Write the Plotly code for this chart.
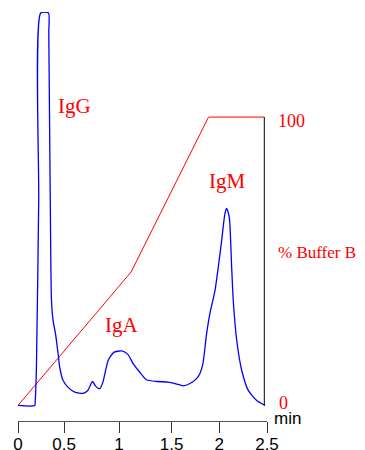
import plotly.graph_objects as go

# Chromatogram (absorbance, arbitrary units scaled to % axis)
time_min = [0, 0.168, 0.173, 0.185, 0.208, 0.228, 0.306, 0.309, 0.324, 0.336, 0.352, 0.376,
            0.402, 0.419, 0.452, 0.503, 0.570, 0.653, 0.701, 0.748, 0.781, 0.821, 0.852,
            0.905, 0.962, 1.040, 1.103, 1.156, 1.223, 1.291, 1.394, 1.508, 1.585, 1.659,
            1.726, 1.793, 1.827, 1.857, 1.894, 1.927, 1.978, 2.011, 2.045, 2.078, 2.095,
            2.121, 2.145, 2.161, 2.196, 2.246, 2.312, 2.397, 2.480]
absorbance = [0, 0, 1.7, 13.2, 71.2, 136.1, 136.1, 129.2, 71.2, 36.5, 29.5, 25.0,
              18.1, 13.2, 8.7, 6.25, 4.6, 4.2, 5.2, 8.3, 6.6, 5.8, 8.0,
              15.6, 18.4, 18.9, 17.7, 14.5, 11.5, 8.9, 8.3, 8.1, 7.5, 6.8,
              7.6, 9.3, 11.1, 14.6, 25.0, 31.9, 39.9, 48.0, 57.3, 66.6, 68.3,
              65.4, 48.0, 36.5, 22.6, 12.2, 5.2, 1.7, 0]

# Gradient (% Buffer B)
grad_time = [0, 1.136, 1.913, 2.473]
grad_pct = [0, 46.3, 100, 100]

tick_vals = [0, 0.462, 1.015, 1.542, 2.021, 2.5]
tick_text = ["0", "0.5", "1", "1.5", "2", "2.5"]

peaks = [("IgG", 0.570, 104.0), ("IgA", 1.036, 28.0), ("IgM", 2.096, 78.0)]

X_RANGE = [0, 2.5]
Y_RANGE = [-5.4, 136.45]


def px(x):
    return (x - X_RANGE[0]) / (X_RANGE[1] - X_RANGE[0])


def py(y):
    return (y - Y_RANGE[0]) / (Y_RANGE[1] - Y_RANGE[0])


fig = go.Figure()
fig.add_trace(go.Scatter(x=grad_time, y=grad_pct, mode="lines",
                         line=dict(color="#ff0000", width=1), hoverinfo="skip"))
fig.add_trace(go.Scatter(x=time_min, y=absorbance, mode="lines",
                         line=dict(color="#0000ff", width=1.3, shape="spline", smoothing=0.6),
                         hoverinfo="skip"))

# right % axis line
fig.add_trace(go.Scatter(x=[2.473, 2.473], y=[0, 100], mode="lines",
                         line=dict(color="#000000", width=1), hoverinfo="skip"))

serif = "Liberation Serif, Times New Roman, serif"
ann = []
for name, xx, yy in peaks:
    ann.append(dict(x=px(xx), y=py(yy), text=name, xanchor="center",
                    font=dict(family=serif, size=21, color="#ff0000")))
ann.append(dict(x=px(2.600), y=py(98.7), text="100", xanchor="left",
                font=dict(family=serif, size=18, color="#ff0000")))
ann.append(dict(x=px(2.607), y=py(0.8), text="0", xanchor="left",
                font=dict(family=serif, size=18, color="#ff0000")))
ann.append(dict(x=px(2.602), y=py(52.9), text="% Buffer B", xanchor="left",
                font=dict(family=serif, size=17, color="#ff0000")))
ann.append(dict(x=px(2.558), y=py(-4.6), text="min", xanchor="left",
                font=dict(family="Liberation Sans, Arial, sans-serif", size=17, color="#000000")))
for a in ann:
    a.update(xref="paper", yref="paper", showarrow=False, yanchor="middle", borderpad=0)

# page body has an 8px default margin, so margins are offset by 8px
fig.update_layout(
    width=365, height=450,
    margin=dict(l=10.3, r=106.3, t=4, b=37.3, autoexpand=False),
    paper_bgcolor="white", plot_bgcolor="white",
    showlegend=False,
    annotations=ann,
    xaxis=dict(range=X_RANGE, tickmode="array", tickvals=tick_vals, ticktext=tick_text,
               automargin=False, ticklabelstandoff=-3,
               showgrid=False, zeroline=False, showline=True, linecolor="#555555", linewidth=1,
               ticks="outside", ticklen=11, tickcolor="#333333", tickwidth=1,
               tickfont=dict(family="Liberation Sans, Arial, sans-serif", size=17, color="#000000")),
    yaxis=dict(range=Y_RANGE, visible=False, automargin=False),
)

fig.write_html("out.html")
